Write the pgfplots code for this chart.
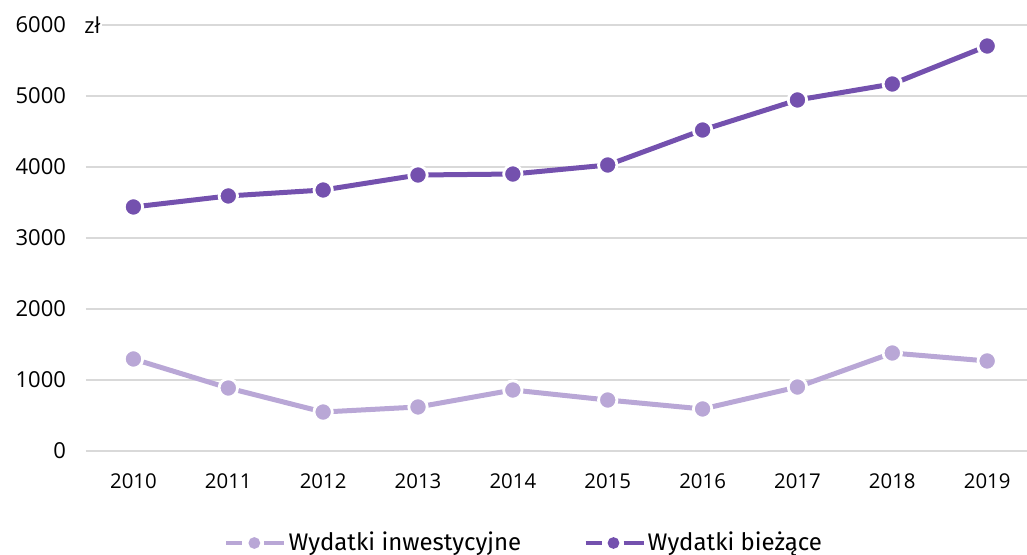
\documentclass[border=0pt]{standalone}
\usepackage{pgfplots}
\pgfplotsset{compat=1.18}
\usepackage{fontspec}
\setmainfont{Fira Sans}
\newfontfamily\tickfont{Open Sans}
\definecolor{darkp}{HTML}{7451AE}
\definecolor{lightp}{HTML}{B9A7D6}
\definecolor{gridc}{HTML}{D9D9D9}
\pgfplotsset{
  mylegend/.style={legend image code/.code={
    \draw[#1, mark=none, line width=2.2pt] (0pt,0pt) -- (8pt,0pt);
    \draw[#1, mark=none, line width=2.2pt] (19pt,0pt) -- (29pt,0pt);
    \fill[#1] (14pt,0pt) circle (1.6pt);
  }},
}
\begin{document}
\begin{tikzpicture}
\begin{axis}[
  scale only axis,
  width=470.5pt, height=213pt,
  anchor=south west, at={(0,0)},
  xmin=-0.5, xmax=9.42,
  ymin=0, ymax=6000,
  axis line style={draw=none},
  major tick length=0pt,
  xtick={0,...,9},
  xticklabels={2010,2011,2012,2013,2014,2015,2016,2017,2018,2019},
  ytick={0,1000,2000,3000,4000,5000,6000},
  ymajorgrids,
  grid style={gridc, line width=0.8pt},
  /pgf/number format/assume math mode=true,
  /pgf/number format/1000 sep={},
  scaled y ticks=false,
  xticklabel style={font=\tickfont\fontsize{10.2}{12}\selectfont, text=black, yshift=-8pt},
  yticklabel style={font=\tickfont\fontsize{11}{12}\selectfont, text=black, xshift=-6.5pt},
  clip=false,
  legend columns=2,
  legend style={draw=none, fill=none, at={(axis description cs:0.4655,0)}, anchor=center, yshift=-46pt,
    font=\fontsize{12}{14}\selectfont, inner sep=0pt,
    nodes={inner sep=1pt},
    /tikz/every even column/.append style={column sep=30pt}},
  legend cell align=left,
]
\node[anchor=west, fill=white, inner sep=1pt, font=\tickfont\fontsize{11}{12}\selectfont] at (axis cs:-0.5,6000) {\hspace{-2pt}zł};
\addplot[lightp, line width=2.5pt, mark=*, mark size=4.6pt, mark options={draw=white, line width=1.4pt, fill=lightp}, mylegend]
  coordinates {(0,1296) (1,887) (2,549) (3,620) (4,859) (5,718) (6,592) (7,901) (8,1380) (9,1268)};
\addlegendentry{Wydatki inwestycyjne}
\addplot[darkp, line width=2.5pt, mark=*, mark size=4.6pt, mark options={draw=white, line width=1.4pt, fill=darkp}, mylegend]
  coordinates {(0,3437) (1,3592) (2,3676) (3,3887) (4,3901) (5,4028) (6,4521) (7,4944) (8,5169) (9,5704)};
\addlegendentry{Wydatki bieżące}
\end{axis}
\pgfresetboundingbox
\path[use as bounding box] (-43pt,-52pt) rectangle (470.5pt,225.5pt);
\end{tikzpicture}
\end{document}
